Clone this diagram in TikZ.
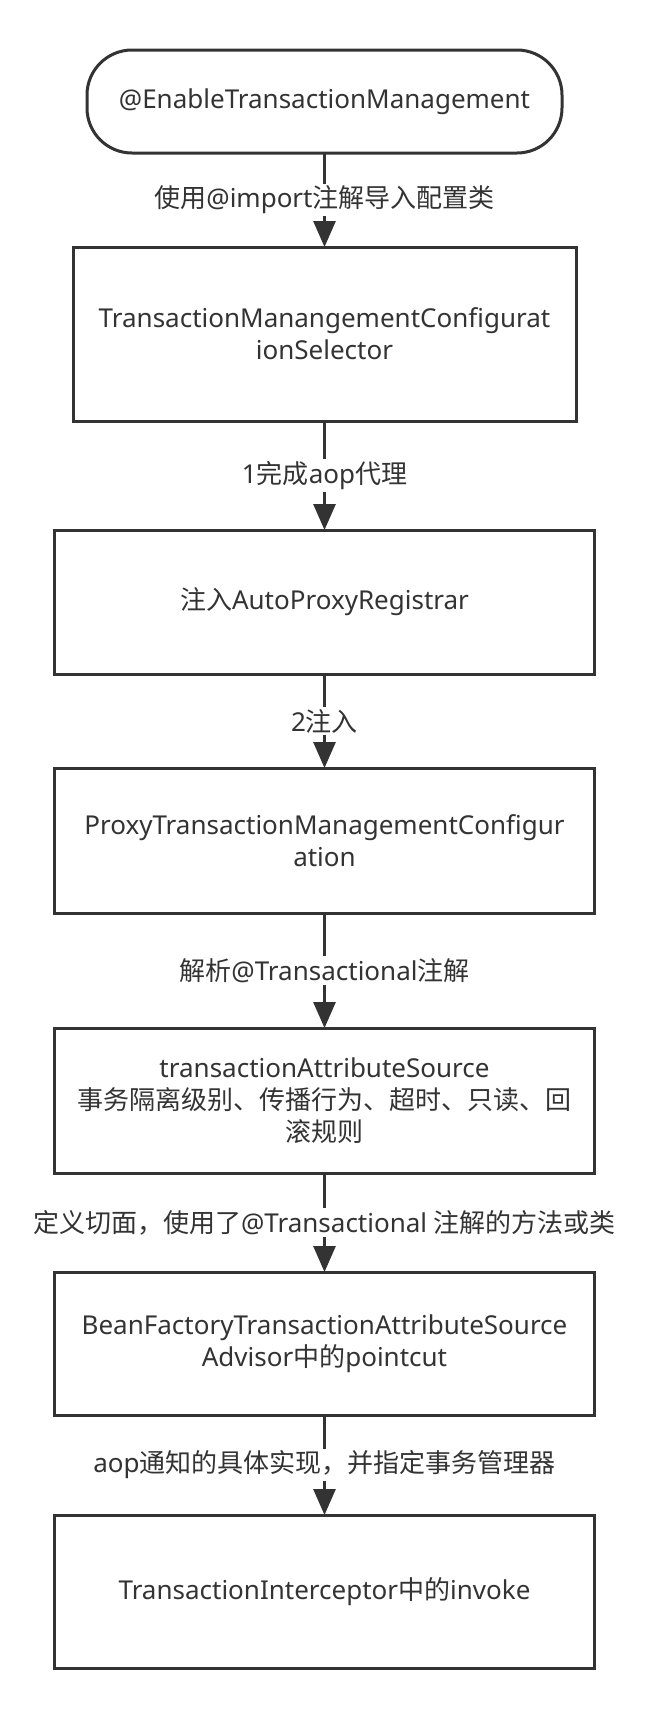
\documentclass[tikz,border=0pt]{standalone}
\usepackage{fontspec}
\setmainfont{Noto Sans}
\newfontfamily\cjk{Noto Sans CJK SC}
\usetikzlibrary{arrows.meta,positioning}
\definecolor{ink}{HTML}{333333}
\newcommand{\zh}[1]{{\cjk #1}}

\begin{document}
\begin{tikzpicture}[x=1pt,y=1pt,->,>={Triangle[length=26pt,width=22pt]},
  line width=3pt,color=ink,font=\fontsize{26}{32}\selectfont,
  flow box/.style={rectangle,draw,minimum width=540pt,minimum height=145pt,
  inner sep=0pt,outer sep=0pt,align=center,text width=530pt},
  start box/.style={flow box,rounded corners=45pt,minimum width=475pt,
  minimum height=103pt,text width=460pt}]

  \useasboundingbox (0,0) rectangle (646,-1709);

  \node[start box] (enable) at (324.5,-101.5) {@EnableTransactionManagement};
  \node[flow box,minimum width=503pt,minimum height=174pt,text width=495pt] (selector)
    [below=94pt of enable] {TransactionManangementConfigurat\\ionSelector};
  \node[flow box,minimum height=144pt] (registrar) [below=109pt of selector]
    {\zh{注入}AutoProxyRegistrar};
  \node[flow box] (proxyconfig) [below=94pt of registrar]
    {ProxyTransactionManagementConfigur\\ation};
  \node[flow box] (attrsource) [below=115pt of proxyconfig]
    {transactionAttributeSource\\\zh{事务隔离级别、传播行为、超时、只读、回}\\\zh{滚规则}};
  \node[flow box,minimum height=143pt] (advisor) [below=99pt of attrsource]
    {BeanFactoryTransactionAttributeSource\\Advisor\zh{中的}pointcut};
  \node[flow box,minimum height=153pt] (interceptor) [below=100pt of advisor]
    {TransactionInterceptor\zh{中的}invoke};

  \path[every node/.style={fill=white,inner sep=2pt}]
    (enable) edge node {\zh{使用}@import\zh{注解导入配置类}} (selector)
    (selector) edge node {1\zh{完成}aop\zh{代理}} (registrar)
    (registrar) edge node {2\zh{注入}} (proxyconfig)
    (proxyconfig) edge node {\zh{解析}@Transactional\zh{注解}} (attrsource)
    (attrsource) edge node {\zh{定义切面，使用了}@Transactional \zh{注解的方法或类}} (advisor)
    (advisor) edge node {aop\zh{通知的具体实现，并指定事务管理器}} (interceptor);

\end{tikzpicture}
\end{document}
